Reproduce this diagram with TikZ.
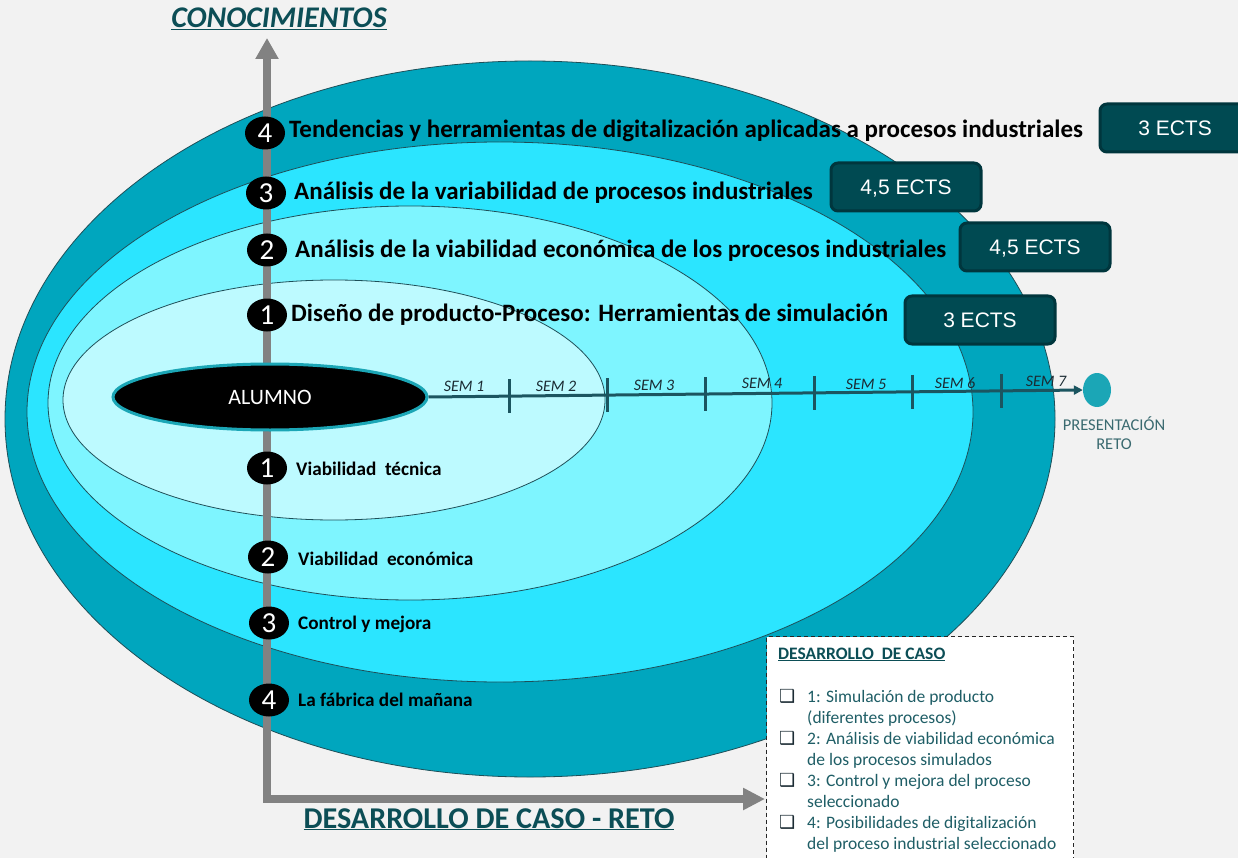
\documentclass[tikz,border=0pt]{standalone}
\usepackage{fontspec}
\setmainfont{Carlito}
\newfontfamily\arialf{Liberation Sans}
\newfontfamily\djv{DejaVu Sans}
\usetikzlibrary{arrows.meta,shapes.geometric}
\definecolor{bg}{HTML}{F2F2F2}
\definecolor{ringA}{HTML}{00A6BE}
\definecolor{ringB}{HTML}{2BE5FF}
\definecolor{ringC}{HTML}{7EF5FF}
\definecolor{ringD}{HTML}{BDFAFF}
\definecolor{edgec}{HTML}{1E4F58}
\definecolor{darkteal}{HTML}{0C4E56}
\definecolor{ectsfill}{HTML}{004A52}
\definecolor{ectsborder}{HTML}{00363D}
\definecolor{arrowgrey}{HTML}{828282}
\definecolor{tlc}{HTML}{1B5560}
\definecolor{boxtext}{HTML}{1F5E66}
\definecolor{presc}{HTML}{1BA6B6}
\definecolor{semc}{HTML}{1B2B33}
\definecolor{presl}{HTML}{3A6A70}
\begin{document}
\begin{tikzpicture}[x=1pt,y=-1pt,
  ring/.style={draw=edgec, line width=0.8pt},
  numc/.style={ellipse, fill=black, text=white, minimum width=40pt, minimum height=33pt, inner sep=0pt, text height=18.5pt, text depth=0pt, font=\fontsize{29}{29}\selectfont},
  bigtxt/.style={anchor=base west, inner sep=0pt, text=black, font=\bfseries\fontsize{25}{30}\selectfont},
  smalltxt/.style={anchor=base west, inner sep=0pt, text=black, font=\bfseries\fontsize{19.2}{23}\selectfont},
  ects/.style={rectangle, rounded corners=7pt, fill=ectsfill, draw=ectsborder, line width=3pt, minimum width=150pt, minimum height=48pt, inner sep=0pt, text height=15pt, text depth=0pt, text=white, font=\arialf\fontsize{21}{24}\selectfont},
  sem/.style={inner sep=0pt, text=semc, font=\itshape\fontsize{16}{18}\selectfont},
  semtick/.style={draw=tlc, line width=3pt},
  greyarrow/.style={draw=arrowgrey, line width=7.5pt, {Triangle[width=22pt,length=21pt]}-{Triangle[width=21pt,length=22pt]}},
  tline/.style={draw=tlc, line width=3pt, -{Triangle[width=9pt,length=9pt]}},
  listtxt/.style={anchor=base west, inner sep=0pt, text=boxtext, font=\fontsize{17.5}{21}\selectfont},
  cbox/.style={anchor=base west, inner sep=0pt, text=semc, font=\djv\bfseries\fontsize{18}{18}\selectfont}
]
\useasboundingbox (0,0) rectangle (1238,858);
\clip (0,0) rectangle (1238,858);
\fill[bg] (0,0) rectangle (1238,858);

% rings
\filldraw[ring, fill=ringA] (530,419) ellipse [x radius=525pt, y radius=358pt];
\filldraw[ring, fill=ringB] (500,412) ellipse [x radius=473pt, y radius=270pt];
\filldraw[ring, fill=ringC] (410,403) ellipse [x radius=362pt, y radius=197pt];
\filldraw[ring, fill=ringD] (334,400) ellipse [x radius=271pt, y radius=120pt];

% grey axes
\coordinate (vtop) at (267,38);
\coordinate (corner) at (267,799);
\coordinate (hend) at (765,799);
\draw[greyarrow] (vtop) -- (corner) -- (hend);

% titles
\node[anchor=base, inner sep=0pt, text=darkteal, font=\bfseries\itshape\fontsize{30}{34}\selectfont] (conoc) at (279,28) {\underline{CONOCIMIENTOS}};
\node[anchor=base, inner sep=0pt, text=darkteal, font=\bfseries\fontsize{30.2}{34}\selectfont] (reto) at (489,828) {\underline{DESARROLLO DE CASO - RETO}};

% alumno and timeline
\node[ellipse, fill=black, draw=presc, line width=3pt, minimum width=314pt, minimum height=66pt, inner sep=0pt, text=white, font=\fontsize{22}{24}\selectfont] (alumno) at (270,397) {ALUMNO};
\node[ellipse, fill=presc, minimum width=28pt, minimum height=34pt, inner sep=0pt] (pres) at (1097,390) {};
\draw[tline] (alumno.east) -- (pres.west)
  coordinate[pos=0.1235] (k1) coordinate[pos=0.2729] (k2) coordinate[pos=0.4238] (k3)
  coordinate[pos=0.5899] (k4) coordinate[pos=0.7393] (k5) coordinate[pos=0.875] (k6);
\foreach \k in {k1,k2,k3,k4,k5,k6} \draw[semtick] (\k) ++(0,-17) -- ++(0,34);
\node[sem] (s1) at (464,386) {SEM 1};
\node[sem] (s2) at (556,386) {SEM 2};
\node[sem] (s3) at (654,385) {SEM 3};
\node[sem] (s4) at (762,383) {SEM 4};
\node[sem] (s5) at (866,384) {SEM 5};
\node[sem] (s6) at (955,383) {SEM 6};
\node[sem] (s7) at (1046,381) {SEM 7};
\node[align=center, inner sep=0pt, text=presl, font=\fontsize{16.5}{19}\selectfont] (preslbl) at (1114,433) {PRESENTACIÓN\\RETO};

% numbered items
\node[numc] (n4) at (265,133) {4};
\node[numc] (n3) at (266,193) {3};
\node[numc] (n2) at (267,250) {2};
\node[numc] (n1) at (267,315) {1};
\node[numc] (m1) at (267,468) {1};
\node[numc] (m2) at (268,557) {2};
\node[numc] (m3) at (269,623) {3};
\node[numc] (m4) at (269,700) {4};

\node[bigtxt] (t4) at (289,138) {Tendencias y herramientas de digitalización aplicadas a procesos industriales};
\node[bigtxt] (t3) at (294,200) {Análisis de la variabilidad de procesos industriales};
\node[bigtxt] (t2) at (295,258) {Análisis de la viabilidad económica de los procesos industriales};
\node[bigtxt] (t1) at (291,321) {Diseño de producto-Proceso: Herramientas de simulación};

\node[smalltxt] (b1) at (296,475) {Viabilidad\ \ técnica};
\node[smalltxt] (b2) at (298,565) {Viabilidad\ \ económica};
\node[smalltxt] (b3) at (298,629) {Control y mejora};
\node[smalltxt] (b4) at (298,706) {La fábrica del mañana};

% ECTS
\node[ects] (e4) at (1175,128) {3 ECTS};
\node[ects] (e3) at (906,187) {4,5 ECTS};
\node[ects] (e2) at (1035,247) {4,5 ECTS};
\node[ects] (e1) at (980,320) {3 ECTS};

% case box
\node[rectangle, anchor=north west, fill=white, draw=black!85, dashed, dash pattern=on 4pt off 3pt, line width=1.3pt, minimum width=307pt, minimum height=260pt, inner sep=0pt] (casebox) at (766,636) {};
\node[anchor=base west, inner sep=0pt, text=darkteal, font=\bfseries\fontsize{17.5}{21}\selectfont] (casetitle) at (778,659) {\underline{DESARROLLO\ \ DE CASO}};
\node[cbox] (c1) at (779,702) {❑};
\node[cbox] (c2) at (779,744) {❑};
\node[cbox] (c3) at (779,786) {❑};
\node[cbox] (c4) at (779,828) {❑};
\node[listtxt] (l1) at (807,702) {1: Simulación de producto};
\node[listtxt] (l2) at (807,723) {(diferentes procesos)};
\node[listtxt] (l3) at (807,744) {2: Análisis de viabilidad económica};
\node[listtxt] (l4) at (807,765) {de los procesos simulados};
\node[listtxt] (l5) at (807,786) {3: Control y mejora del proceso};
\node[listtxt] (l6) at (807,807) {seleccionado};
\node[listtxt] (l7) at (807,828) {4: Posibilidades de digitalización};
\node[listtxt] (l8) at (807,849) {del proceso industrial seleccionado};
\end{tikzpicture}
\end{document}
